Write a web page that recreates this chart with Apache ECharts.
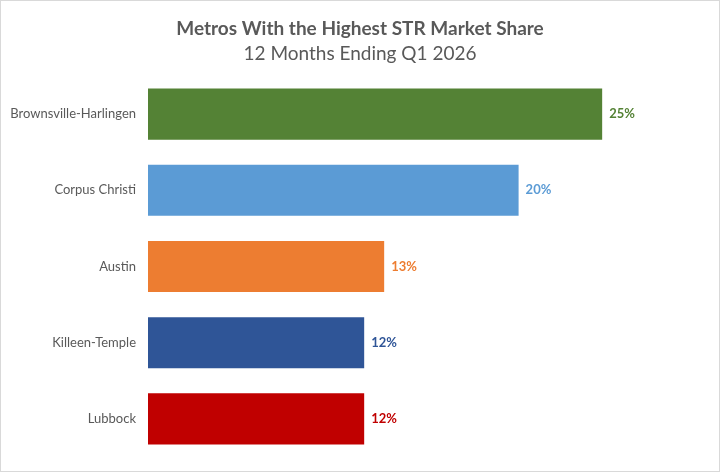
<!DOCTYPE html>
<html>
<head>
    <meta charset="utf-8">
    <title>Metros With the Highest STR Market Share</title>
    <style>
        html, body { margin: 0; padding: 0; background: #fff; }
        #main { width: 720px; height: 472px; box-sizing: border-box; border: 1px solid #d9d9d9; }
    </style>
</head>
<body>
    <div id="main"></div>
    <script src="https://cdn.jsdelivr.net/npm/echarts@6/dist/echarts.min.js"></script>
    <script type="text/javascript">

        const METROS = ['Brownsville-Harlingen', 'Corpus Christi', 'Austin', 'Killeen-Temple', 'Lubbock'];
        const SHARES = [25.0, 20.4, 13.0, 11.9, 11.9];
        const COLORS = ['#548235', '#5B9BD5', '#ED7D31', '#2F5597', '#C00000'];

        const FONT = 'Lato, "Open Sans", sans-serif';

        let myChart = echarts.init(document.getElementById('main'));

        let data = SHARES.map(function (v, i) {
            return {
                value: v,
                itemStyle: { color: COLORS[i] },
                label: { color: COLORS[i] }
            };
        });

        let option = {
            animation: false,
            title: {
                text: 'Metros With the Highest STR Market Share',
                subtext: '12 Months Ending Q1 2026',
                left: 'center',
                top: 13,
                itemGap: 6,
                textStyle: { fontFamily: FONT, fontSize: 19, fontWeight: 'bold', color: '#595959' },
                subtextStyle: { fontFamily: FONT, fontSize: 19, color: '#595959' }
            },
            grid: {
                left: 147,
                right: 26,
                top: 75,
                bottom: 14,
                containLabel: false
            },
            xAxis: {
                type: 'value',
                min: 0,
                max: 30,
                show: false
            },
            yAxis: {
                type: 'category',
                data: METROS,
                inverse: true,
                axisLine: { show: false },
                axisTick: { show: false },
                axisLabel: {
                    margin: 12,
                    fontFamily: FONT,
                    fontSize: 13,
                    color: '#595959'
                }
            },
            series: [
                {
                    type: 'bar',
                    data: data,
                    barCategoryGap: '33%',
                    label: {
                        show: true,
                        position: 'right',
                        distance: 7,
                        fontFamily: FONT,
                        fontSize: 13,
                        fontWeight: 'bold',
                        formatter: function (p) {
                            return Math.round(p.value) + '%';
                        }
                    }
                }
            ]
        };

        myChart.setOption(option);

    </script>
</body>
</html>
